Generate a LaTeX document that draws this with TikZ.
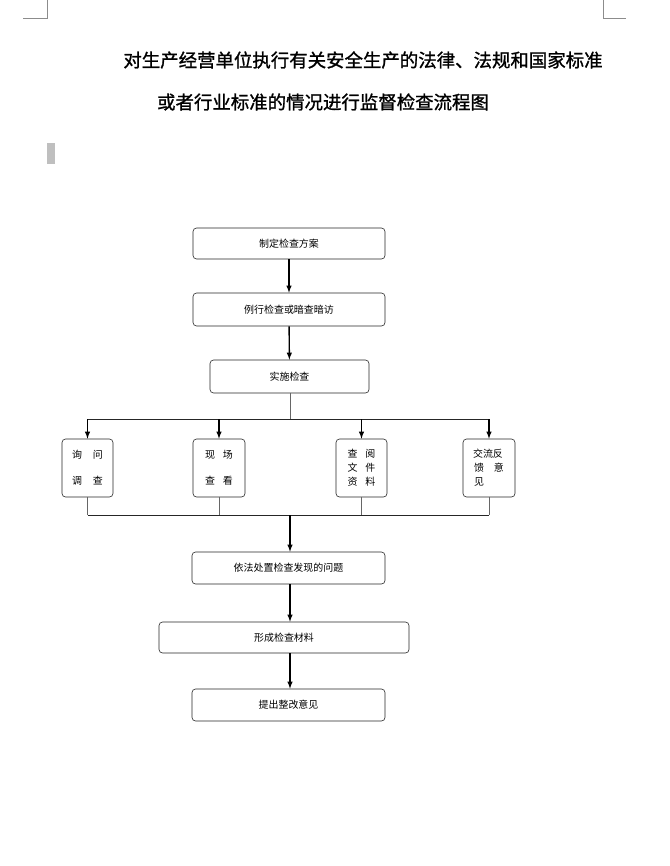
\documentclass[tikz,border=0pt]{standalone}
\usepackage{fontspec}
\newfontfamily\cjk{Noto Sans CJK SC}
\newfontfamily\cjktitle{Noto Sans CJK SC}[FakeBold=1.2]
\usetikzlibrary{arrows}
\tikzset{
  stepbox/.style={draw=black!85,line width=0.6pt,rounded corners=3.5bp,inner sep=0pt,align=center,font=\cjk\fontsize{10}{12}\selectfont},
  smallbox/.style={stepbox,minimum width=51bp,minimum height=58bp},
  flow/.style={line width=1.4pt,-latex},
  thin/.style={black!60,line width=0.5pt},
  bar/.style={black!85,line width=0.8pt},
  titleline/.style={font=\cjktitle\fontsize{18.5}{22}\selectfont}
}
\begin{document}
\begin{tikzpicture}[x=1bp,y=-1bp]
  \useasboundingbox (0,0) rectangle (670,866);
  \draw [black!45,line width=0.5pt] (47,0) -- (47,18) -- (23,18);
  \draw [black!45,line width=0.5pt] (603,0) -- (603,18) -- (626,18);
  \fill [black!25] (47,143) rectangle (55,164);
  \node [titleline] (title1) at (363,60) {对生产经营单位执行有关安全生产的法律、法规和国家标准};
  \node [titleline] (title2) at (323,102) {或者行业标准的情况进行监督检查流程图};
  \node [stepbox,minimum width=192bp,minimum height=31bp] (plan) at (289,243.5) {制定检查方案};
  \node [stepbox,minimum width=192bp,minimum height=33bp] (patrol) at (289,309.5) {例行检查或暗查暗访};
  \node [stepbox,minimum width=159bp,minimum height=33bp] (check) at (289.5,376.5) {实施检查};
  \node [smallbox] (ask) at (87.5,468) {询\hspace{1.1em}问\\[1.4em]调\hspace{1.1em}查};
  \node [smallbox,minimum width=52bp] (site) at (219,468) {现\hspace{0.8em}场\\[1.4em]查\hspace{0.8em}看};
  \node [smallbox] (docs) at (361.5,468) {查\hspace{0.8em}阅\\[0.2em]文\hspace{0.8em}件\\[0.2em]资\hspace{0.8em}料};
  \node [smallbox,minimum width=52bp,align=left] (talk) at (489,468) {\hspace{-0.1em}交流反\\[0.2em]馈\hspace{1em}意\\[0.2em]见\hspace{2em}};
  \node [stepbox,minimum width=193bp,minimum height=32bp] (handle) at (288.5,568) {依法处置检查发现的问题};
  \node [stepbox,minimum width=250bp,minimum height=31bp] (material) at (284,637.5) {形成检查材料};
  \node [stepbox,minimum width=193bp,minimum height=32bp] (advice) at (288.5,705) {提出整改意见};
  \coordinate (split) at (290,419);
  \coordinate (join) at (290,515);
  \draw [flow] (plan) -- (patrol);
  \draw [flow] (patrol) -- (check);
  \draw [thin] (check.south -| split) -- (split);
  \draw [bar] (ask.north |- split) -- (talk.north |- split);
  \foreach \b in {ask,site,docs,talk}
    \draw [flow] (\b.north |- split) -- (\b.north);
  \foreach \b in {ask,site,docs,talk}
    \draw [thin] (\b.south) -- (\b.south |- join);
  \draw [bar] (ask.south |- join) -- (talk.south |- join);
  \draw [flow] (join) -- (handle.north -| join);
  \draw [flow] (handle.south -| join) -- (material.north -| join);
  \draw [flow] (material.south -| join) -- (advice.north -| join);
\end{tikzpicture}
\end{document}
